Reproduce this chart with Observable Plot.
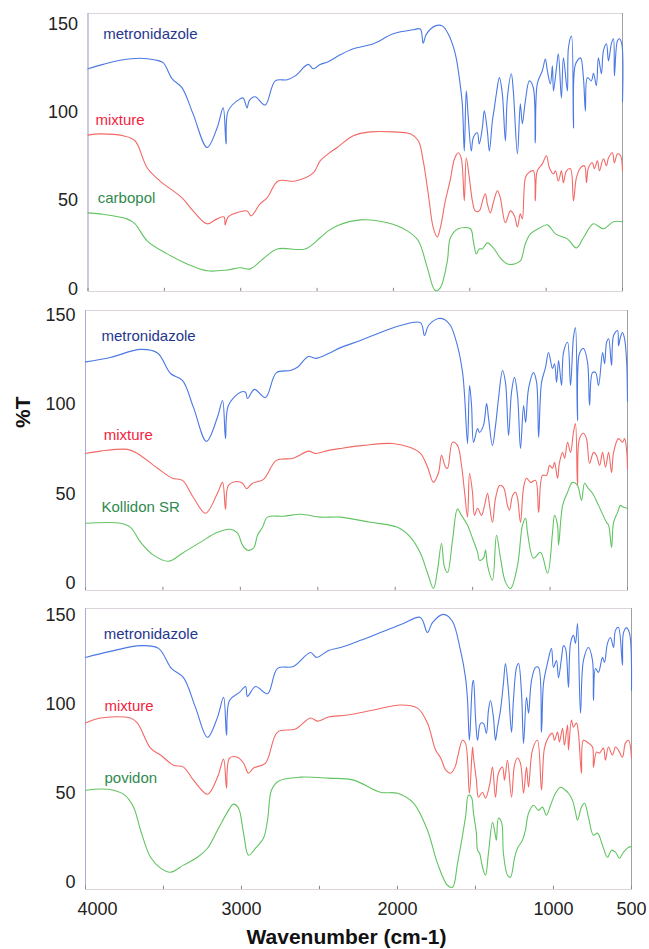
<!DOCTYPE html>
<html>
<head>
<meta charset="utf-8">
<script src="https://cdn.jsdelivr.net/npm/d3@7"></script>
<script src="https://cdn.jsdelivr.net/npm/@observablehq/plot@0.6"></script>
<style>
  html, body { margin: 0; padding: 0; background: #fff; }
  #chart { width: 649px; }
  #chart svg { display: block; }
</style>
</head>
<body>
<div id="chart"></div>
<script>
// ---------- data: [wavenumber (cm-1), %T] ----------
const yTicks = [0, 50, 100, 150];
const xTicks = [4000, 3500, 3000, 2500, 2000, 1500, 1000, 500];
const xTickLabels = [4000, 3000, 2000, 1000, 500];
const seriesNames = ["metronidazole", "mixture"];
const excipients = ["carbopol", "Kollidon SR", "povidon"];

// Panel 1: metronidazole / mixture / carbopol
const metro1 = [[4000,124.5],[3900,127],[3780,129.5],[3660,130.5],[3560,129.5],[3508,128],[3450,119],[3384,113.7],[3312,99],[3220,80],[3155,91],[3115,102.4],[3096,82],[3082,100.7],[3004,107.5],[2984,108],[2958,102.4],[2945,106.4],[2906,108.7],[2840,104],[2774,117.7],[2696,118.3],[2643,120.5],[2558,127],[2525,124.5],[2480,127],[2427,128.5],[2348,132.4],[2263,135.8],[2132,138.7],[2001,144.3],[1870,146.6],[1824,147],[1805,139],[1785,144],[1726,148.8],[1680,148.8],[1640,144],[1595,133],[1569,119.5],[1549,104.7],[1536,78],[1523,112],[1510,97],[1490,78],[1477,85.5],[1451,88.3],[1438,82],[1418,91],[1405,100.7],[1385,89.4],[1372,78],[1352,95],[1339,102.4],[1326,110.4],[1306,119.5],[1287,110.4],[1267,83.8],[1254,108],[1228,121.7],[1215,112],[1188,76.4],[1169,104.7],[1156,93.4],[1136,106.4],[1110,117.7],[1084,113.8],[1071,82.6],[1058,116],[1025,123.4],[1005,130],[992,123.4],[972,116],[959,126.2],[952,112],[933,124.5],[920,133],[900,108],[887,130.7],[861,112],[854,136.4],[834,143],[821,91],[808,127],[775,130.7],[756,119.5],[743,100.7],[730,119.5],[704,117.7],[690,122],[671,115],[658,130.7],[638,121.7],[625,134.7],[605,138.7],[592,129],[572,139],[559,141.5],[553,120.5],[533,140.4],[520,141.5],[505,138.7],[500,106]];
const mix1 = [[4000,87],[3921,87.7],[3770,86.6],[3692,83.8],[3613,68.5],[3528,61],[3384,51.5],[3312,44.1],[3220,36.8],[3155,39.6],[3109,40.7],[3102,36.2],[3082,40.7],[3004,43.6],[2958,44.1],[2932,41.3],[2873,48.1],[2827,51.5],[2755,61],[2643,61],[2525,65.6],[2480,72.4],[2427,76.4],[2368,80],[2263,86.6],[2152,88.8],[2001,88.8],[1890,87.7],[1837,83.8],[1805,72.4],[1772,53.8],[1739,34.5],[1713,29.4],[1693,34.5],[1660,49.8],[1627,62],[1600,73.6],[1575,77],[1556,74],[1536,49.8],[1523,74],[1503,62.8],[1483,49.8],[1464,44.1],[1438,44.1],[1411,51.5],[1398,53.8],[1385,48.1],[1365,43],[1346,48.7],[1319,55.5],[1300,51.5],[1267,37.4],[1234,44.1],[1208,41.3],[1188,35],[1169,42.4],[1156,39.6],[1136,62.8],[1116,65.6],[1084,66.8],[1071,49.8],[1058,66.8],[1025,70.7],[998,75.3],[979,68.5],[952,65],[939,66.8],[920,61],[900,66.8],[887,60],[867,66.8],[841,68],[821,49.8],[802,62.8],[775,68.5],[749,69.6],[736,60],[723,68.5],[697,71.3],[684,68],[664,72.4],[651,66.8],[625,73.6],[605,69.6],[592,74],[566,77],[553,71.3],[533,76.4],[513,75.3],[500,66.8]];
const carbopol = [[4000,43],[3921,42.4],[3745,39.6],[3692,36.8],[3613,27.2],[3482,19.8],[3351,14.1],[3220,10.2],[3089,10.7],[3004,11.9],[2938,11.3],[2853,17],[2761,22.6],[2578,22.6],[2480,28.9],[2427,32.8],[2368,35.7],[2217,39],[2040,37.4],[1909,32.8],[1837,27.2],[1778,11.9],[1726,-1],[1693,0.6],[1647,15.8],[1627,28.9],[1575,34],[1496,34],[1477,27.2],[1457,19.8],[1438,22.6],[1418,22.6],[1385,26],[1346,23.2],[1300,17.5],[1254,14.1],[1208,14.1],[1169,15.8],[1136,25.5],[1103,31.1],[1051,34],[992,36.2],[939,31.1],[861,28.3],[802,23.2],[756,28.9],[690,36.8],[625,34],[559,38],[500,38]];

// Panel 2: metronidazole / mixture / Kollidon SR
const metro2 = [[4000,124],[3839,126.5],[3645,131],[3535,129],[3451,117.5],[3374,113.6],[3303,98.5],[3219,79.5],[3148,93],[3115,102.4],[3096,81],[3077,99.6],[2999,107],[2967,107],[2954,103.5],[2909,108.6],[2838,104],[2767,118],[2676,119.2],[2631,121],[2560,127],[2515,126],[2431,128.7],[2353,132],[2224,136],[2095,140.5],[1966,144.4],[1837,146],[1811,138.8],[1785,144.4],[1720,148.3],[1682,147.7],[1643,144.4],[1598,133],[1565,118],[1552,105],[1533,78.3],[1520,110.8],[1507,99.6],[1494,79],[1468,86.7],[1456,84.5],[1430,88.4],[1410,100.7],[1397,92.3],[1372,77.2],[1352,88.4],[1333,103.5],[1307,119.2],[1288,112.5],[1268,82.8],[1249,107],[1230,115.3],[1210,105],[1191,75.5],[1171,99.6],[1158,90],[1139,109],[1107,118],[1087,112.5],[1074,81.7],[1055,112.5],[1029,121],[1010,129.3],[984,120.3],[971,123],[958,112.5],[945,124.8],[926,110.8],[913,129.3],[887,135],[868,110.8],[849,137.6],[836,143.2],[823,91.2],[810,128.7],[784,131.5],[758,123.7],[745,99.6],[726,118],[706,118],[687,110.8],[661,129.3],[648,123],[635,135],[622,137],[603,122],[590,138.8],[564,141.6],[558,133],[545,138],[532,140.5],[519,137],[506,125],[500,102]];
const mix2 = [[4000,72.7],[3903,74],[3729,75],[3664,72.7],[3535,64.4],[3438,58.8],[3374,57.6],[3303,48],[3225,39.2],[3148,50.4],[3115,56.5],[3096,41.4],[3077,54.8],[3018,57],[2986,56],[2960,53],[2921,56],[2850,58.2],[2767,68.8],[2657,70],[2560,74],[2515,72.7],[2431,74.4],[2353,75.5],[2205,77.2],[2017,78.3],[1901,76],[1837,72.7],[1791,65],[1753,56.5],[1720,62],[1701,71.6],[1675,65],[1662,64.4],[1630,79],[1598,77.2],[1572,66],[1552,51],[1533,37],[1520,61.6],[1501,51],[1488,38],[1468,42],[1443,38],[1423,43.6],[1404,50.4],[1391,43.6],[1372,34],[1352,47.6],[1326,54.8],[1301,53.7],[1275,43.6],[1262,40.9],[1242,49.2],[1223,51],[1210,47.6],[1191,34],[1171,53.7],[1152,58.8],[1126,56.5],[1094,57.6],[1074,39.7],[1049,60.4],[1023,60.4],[1003,66],[984,64.4],[971,67.7],[952,58.8],[939,67.7],[919,73.3],[906,70],[887,79],[868,73.3],[849,84.5],[836,89.5],[823,54.8],[810,81],[784,84],[765,81],[745,67.2],[719,73.3],[700,71.6],[680,66],[661,73.3],[642,65],[622,73.3],[603,62],[590,73.3],[558,81],[532,79],[519,81],[506,75],[500,64]];
const kollidon = [[4000,33.6],[3774,33.6],[3709,31.3],[3645,23],[3561,15.7],[3464,12.3],[3374,16.8],[3257,23],[3148,28.5],[3064,30.2],[3018,28],[2986,21.3],[2954,18.5],[2915,19.6],[2889,26.9],[2857,31.3],[2825,37],[2721,37.5],[2612,38.6],[2482,37],[2353,37],[2159,34.1],[1985,31.3],[1901,25.7],[1837,16.8],[1791,5.6],[1753,-3],[1727,7.3],[1701,22.4],[1682,9],[1662,6],[1630,24],[1598,41.5],[1572,38],[1533,32.5],[1501,25.2],[1468,17.3],[1456,12.9],[1430,14],[1417,18.5],[1404,10],[1372,1.7],[1346,26.9],[1320,14],[1288,0.6],[1255,-3],[1210,10],[1178,32.5],[1158,36.4],[1146,28.5],[1107,14],[1062,17.3],[1016,5.6],[984,28.5],[971,38],[952,32.5],[945,21.3],[919,43.6],[887,51],[855,56.5],[823,54.8],[797,46.4],[777,56],[752,53],[726,50.4],[687,43.6],[635,34],[622,32.5],[603,20],[590,34],[564,39.7],[545,43.6],[526,42.5],[500,42]];

// Panel 3: metronidazole / mixture / povidon
const metro3 = [[4000,126.4],[3840,129.8],[3647,133],[3532,131.5],[3449,120.2],[3372,115],[3295,98.3],[3218,81.5],[3154,92.7],[3115,104],[3096,82.6],[3077,102.2],[3013,106.7],[2974,110],[2962,104.5],[2910,110],[2833,106],[2769,120.2],[2667,121.3],[2558,129.2],[2519,126.4],[2442,130.3],[2365,132],[2237,136],[2109,140.4],[1962,145.5],[1853,148.9],[1808,140.4],[1776,146],[1705,150.6],[1650,147],[1596,130.3],[1564,115],[1551,102.2],[1539,79.8],[1519,111.8],[1513,113.5],[1500,92.7],[1487,79.8],[1468,89.3],[1449,89.3],[1430,83.7],[1417,96.6],[1404,102.2],[1385,92.7],[1372,79.8],[1359,87],[1340,96.6],[1321,111.8],[1308,123],[1289,107.9],[1269,84.3],[1257,102.2],[1237,120.8],[1224,123],[1205,106.2],[1192,78],[1173,104],[1160,95],[1141,113.5],[1115,120.8],[1096,120.8],[1077,84.3],[1064,111.8],[1039,123],[1013,131.5],[1000,120.8],[981,124.7],[968,115],[949,125.8],[936,133],[923,131.5],[904,109.5],[891,134.3],[872,138.8],[859,134.3],[846,145.5],[827,95],[808,124.7],[776,132],[750,124.7],[744,102.2],[731,120.2],[712,118],[686,126.4],[673,123.6],[654,134.3],[635,137.6],[615,132],[603,141.6],[584,143.3],[558,122],[552,140],[532,143],[513,140],[500,108]];
const mix3 = [[4000,89.5],[3904,92.3],[3712,92.3],[3667,89.5],[3583,75.4],[3519,71.5],[3436,65.8],[3372,64.7],[3308,57.4],[3218,49.5],[3154,59],[3115,69.2],[3096,52.9],[3077,69.8],[3026,70.3],[2987,67],[2955,61.3],[2923,64.2],[2846,67],[2769,84.4],[2654,86.1],[2558,92.3],[2513,90.6],[2442,92.9],[2321,94],[2154,96.8],[1981,99.6],[1872,97.9],[1808,89.5],[1756,74.3],[1724,70],[1690,63],[1660,61.3],[1630,65],[1615,70.3],[1583,79.8],[1564,78.2],[1539,50],[1519,76],[1513,70.3],[1494,57.4],[1481,47.8],[1455,50.6],[1436,47.3],[1410,54.6],[1391,64.7],[1372,47.8],[1353,61.3],[1327,64.7],[1314,57.4],[1295,68.6],[1269,47.8],[1250,65.8],[1231,69.8],[1212,67],[1192,50],[1173,64.7],[1160,53.5],[1135,74.3],[1103,79.8],[1077,51.8],[1058,75.4],[1032,81.6],[1007,83.8],[994,79.8],[974,84.4],[962,78.8],[942,86.6],[930,77],[910,88.3],[904,74.3],[885,91.2],[872,87.2],[853,89.5],[840,83.8],[821,61.3],[808,79.8],[776,78.2],[750,76],[744,64.7],[724,73.2],[705,72.6],[680,75.4],[667,68.6],[648,76],[622,71.5],[603,76],[584,74.3],[558,70.3],[539,78.2],[519,79.8],[500,70]];
const povidon = [[4000,51.7],[3859,52.3],[3756,49.5],[3692,42.2],[3647,29.2],[3583,14],[3519,7.9],[3455,5.6],[3372,9.6],[3282,14],[3218,19.1],[3154,29.2],[3090,39.4],[3051,43.9],[3019,41.6],[2987,27.6],[2955,15.2],[2910,19.1],[2859,24.8],[2833,34.9],[2808,51.7],[2763,56.8],[2622,59.1],[2442,58.5],[2282,57.4],[2109,50.6],[2000,50],[1897,44.4],[1808,29.2],[1744,10.7],[1680,-1.7],[1647,-2.8],[1615,10.7],[1564,36.6],[1545,48.9],[1526,47.8],[1513,38.8],[1494,27.6],[1487,18],[1474,16.3],[1455,8.4],[1436,3.9],[1417,16.3],[1391,33.7],[1378,29.2],[1366,23.6],[1353,36],[1333,33.7],[1321,16.3],[1295,3.9],[1276,2.8],[1250,13.5],[1231,19.1],[1199,23.6],[1180,29.2],[1160,38.8],[1128,43.3],[1096,40.4],[1071,42.2],[1045,37.7],[1019,43.3],[987,50],[955,53.4],[923,51.7],[904,50],[878,46],[859,39.4],[846,34.9],[821,42.2],[801,44.4],[776,36.6],[744,26.4],[718,27.6],[686,20.8],[654,14],[628,18],[603,16.9],[577,13.5],[551,16.9],[519,19.7],[500,20]];

// ---------- styling ----------
const FONT = "'Liberation Sans', Arial, Helvetica, sans-serif";
const LINE = {metro: "#4a78e4", mix: "#f26a66", third: "#62c462"};
const LABEL = {metro: "#25378c", mix: "#f2243e", third: "#2f8a4e"};

function panel(cfg) {
  const [lo] = cfg.yDomain;
  const series = [
    {data: cfg.metro, color: LINE.metro},
    {data: cfg.mix, color: LINE.mix},
    {data: cfg.third, color: LINE.third}
  ];
  const labelColors = [LABEL.metro, LABEL.mix, LABEL.third];
  const names = [seriesNames[0], seriesNames[1], cfg.thirdName];
  return Plot.plot({
    width: 649,
    height: cfg.height,
    marginTop: cfg.mt, marginBottom: cfg.mb, marginLeft: cfg.ml, marginRight: cfg.mr,
    x: {domain: [4000, 500], axis: null},
    y: {domain: cfg.yDomain, axis: null},
    style: {fontFamily: FONT, fontSize: "18px", color: "#222", background: "white", overflow: "visible"},
    marks: [
      Plot.frame({stroke: "#ddd3dc"}),
      Plot.ruleX([4000], {stroke: "#a9a9d4"}),
      Plot.ruleX([500], {stroke: "#a0a0a0"}),
      Plot.ruleX(xTicks, {y1: lo, y2: lo + 1.8, stroke: "#888"}),
      Plot.axisY({ticks: yTicks, tickSize: 0, tickPadding: 10, fontSize: 18, label: null}),
      ...series.map(s => Plot.line(s.data, {x: d => d[0], y: d => d[1], stroke: s.color, strokeWidth: 1.1, curve: "catmull-rom"})),
      ...cfg.labelPos.map((p, i) => Plot.text([names[i]], {
        x: () => p[0], y: () => p[1], text: d => d, fill: labelColors[i],
        textAnchor: "start", lineAnchor: "bottom", fontSize: 15
      })),
      ...(cfg.extra || [])
    ]
  });
}

const chart = document.getElementById("chart");
const fmt = d => String(d);

chart.append(panel({
  height: 300, mt: 13, mb: 9, ml: 87.5, mr: 27,
  yDomain: [-1.5, 155.8],
  metro: metro1, mix: mix1, third: carbopol, thirdName: excipients[0],
  labelPos: [[3900, 141.1], [3951, 92.9], [3936, 48.4]]
}));

chart.append(panel({
  height: 300, mt: 10, mb: 10, ml: 85, mr: 22,
  yDomain: [-4.1, 152.8],
  metro: metro2, mix: mix2, third: kollidon, thirdName: excipients[1],
  labelPos: [[3897, 135.6], [3882, 80.3], [3897, 39.8]],
  extra: [
    Plot.text(["%T"], {frameAnchor: "left", text: d => d, rotate: -90, dx: -62.5, dy: -22.5,
      fontSize: 21, fontWeight: "bold", fill: "#111"})
  ]
}));

chart.append(panel({
  height: 349, mt: 8, mb: 60, ml: 85, mr: 18,
  yDomain: [-4.1, 153.9],
  metro: metro3, mix: mix3, third: povidon, thirdName: excipients[2],
  labelPos: [[3883, 136.9], [3878, 96.2], [3878, 55.7]],
  extra: [
    Plot.axisX({ticks: xTickLabels.filter(t => t !== 4000), tickSize: 0, tickPadding: 13, tickFormat: fmt, fontSize: 18, label: null}),
    Plot.axisX({ticks: xTickLabels.filter(t => t === 4000), tickSize: 0, tickPadding: 13, tickFormat: fmt, dx: 12, fontSize: 18, label: null}),
    Plot.text(["Wavenumber (cm-1)"], {frameAnchor: "bottom", text: d => d, lineAnchor: "top", dy: 40, dx: -12,
      fontSize: 21, fontWeight: "bold", fill: "#111"})
  ]
}));
</script>
</body>
</html>
